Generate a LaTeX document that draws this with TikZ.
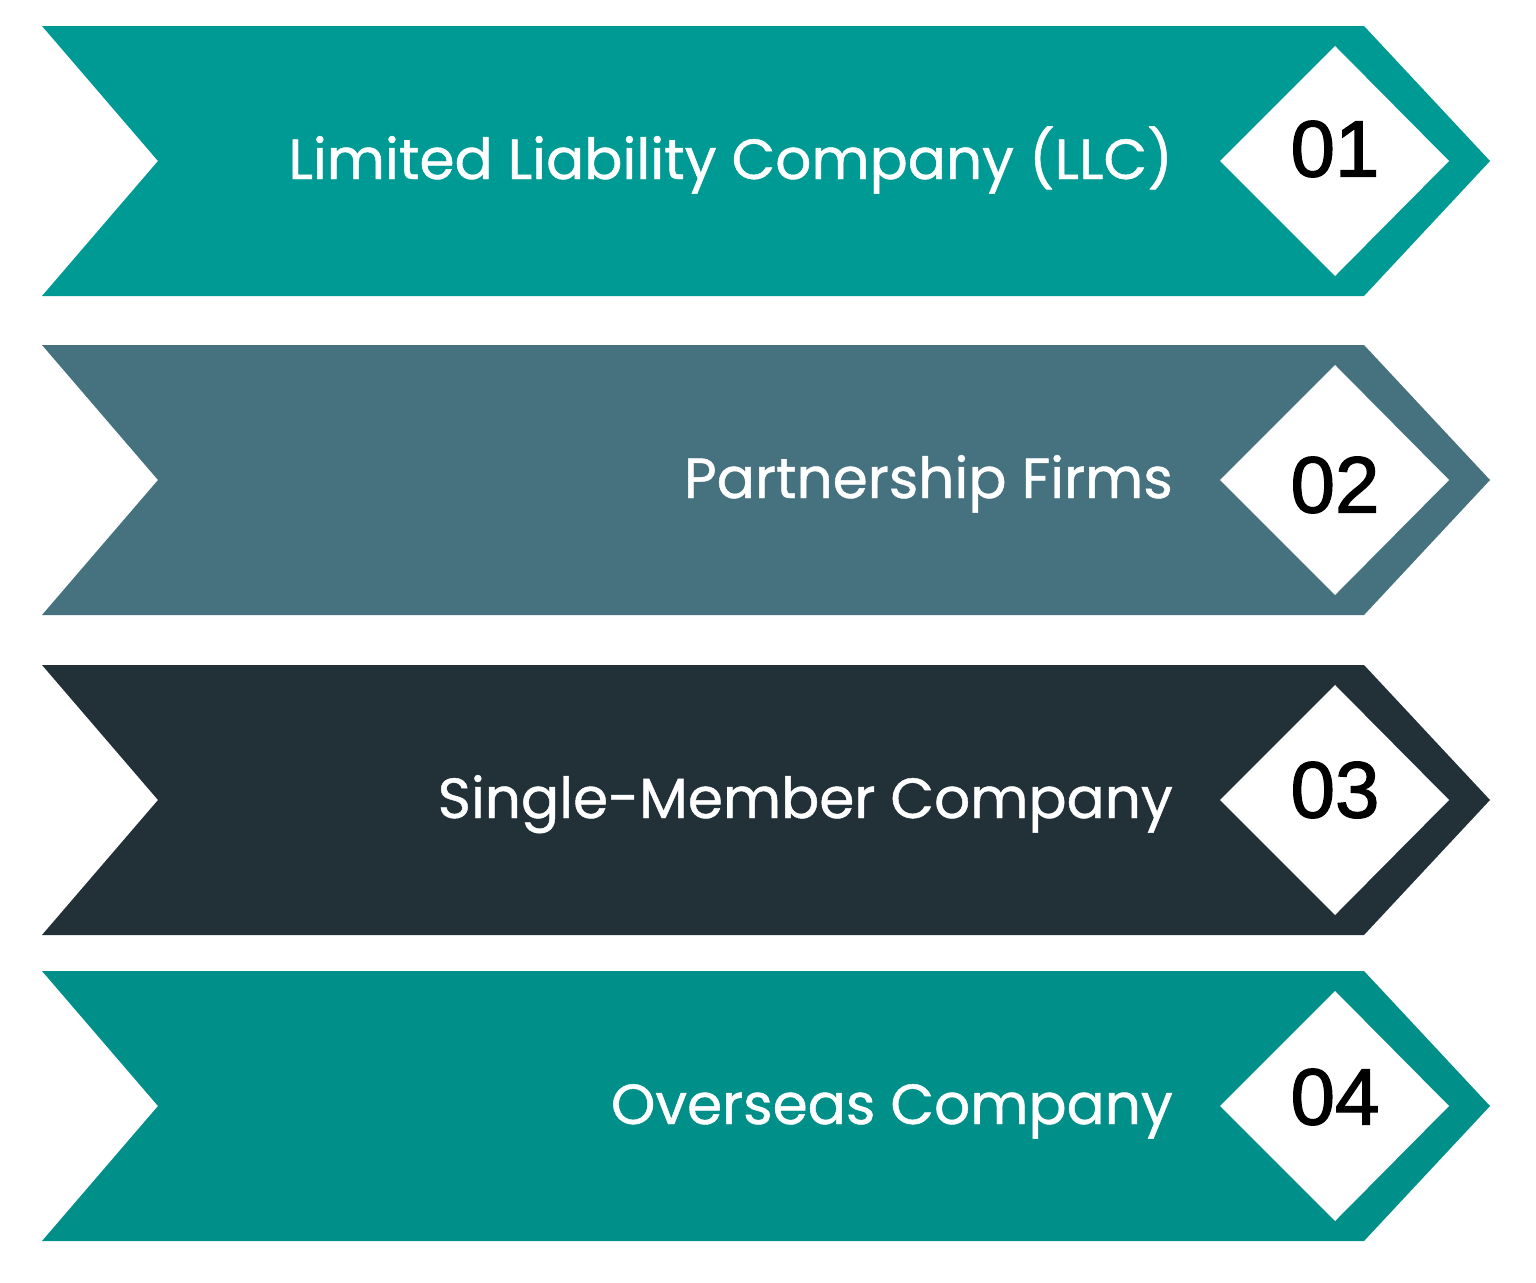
\documentclass[tikz,border=0pt]{standalone}
\usepackage{fontspec}
\setmainfont{Poppins}[FakeBold=0.8]
\newfontfamily\numfont{Liberation Sans}[FakeBold=1.6]
\usetikzlibrary{calc}
\definecolor{tealband}{HTML}{009A94}
\definecolor{slateband}{HTML}{46727F}
\definecolor{darkband}{HTML}{223137}
\definecolor{deepteal}{HTML}{008F89}
\tikzset{
    bandlabel/.style = {anchor=base east, inner sep=0pt, text=white,
        font=\fontsize{56.5}{60}\selectfont},
    bandnum/.style = {anchor=center, inner sep=0pt, text=black,
        font=\numfont\fontsize{80}{84}\selectfont}
}

\begin{document}
\begin{tikzpicture}[x=1pt,y=-1pt]
    \useasboundingbox (0,0) rectangle (1536,1282);
    \foreach \i/\c/\col/\dy/\txt in {%
        1/161/tealband/-12/{Limited Liability Company (LLC)},
        2/480/slateband/5/{Partnership Firms},
        3/800/darkband/-10/{Single-Member Company},
        4/1106/deepteal/-9/{Overseas Company}}
    {
        \fill[\col] (42,\c-135) -- (1364,\c-135) -- (1490,\c)
            -- (1364,\c+135) -- (42,\c+135) -- (158,\c) -- cycle;
        \fill[white] (1335,\c-115) -- (1449,\c) -- (1335,\c+115)
            -- (1220,\c) -- cycle;
        \node[bandlabel] (label-\i) at (1173,\c+18) {\txt};
        \node[bandnum] (num-\i) at (1335,\c+\dy) {0\i};
    }
\end{tikzpicture}
\end{document}
